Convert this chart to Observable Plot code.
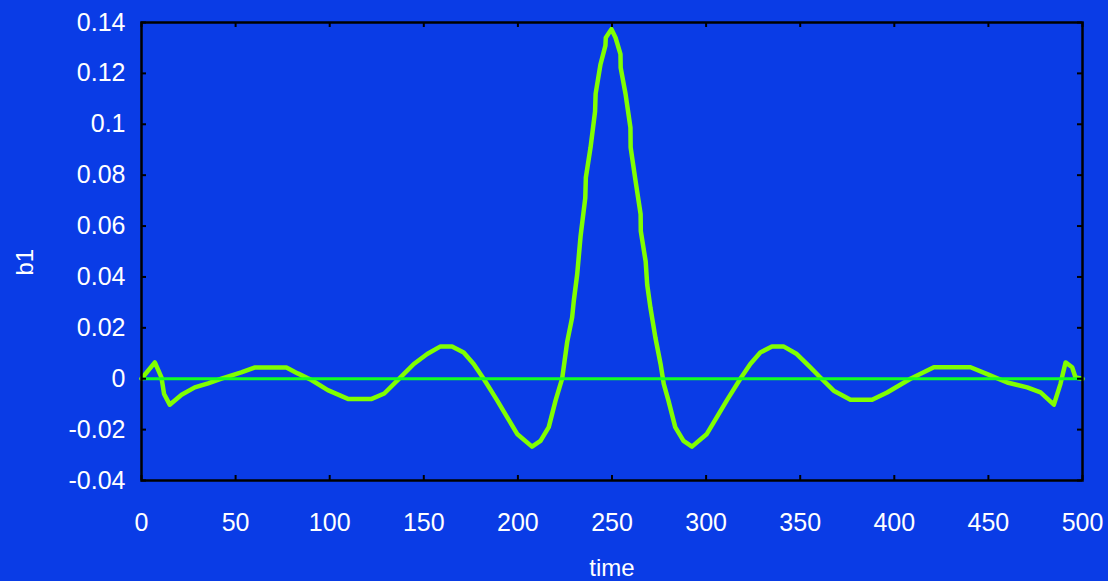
<!DOCTYPE html>
<html>
<head>
<meta charset="utf-8">
<script src="https://cdn.jsdelivr.net/npm/d3@7"></script>
<script src="https://cdn.jsdelivr.net/npm/@observablehq/plot@0.6"></script>
<style>
  html, body { margin: 0; padding: 0; background: #0a3ce6; }
  #chart svg { display: block; }
</style>
</head>
<body>
<div id="chart"></div>
<script>
const time = [0, 7.1, 10.6, 12, 15, 21.3, 28.3, 35.4, 42.5, 53, 60, 77, 83, 90.3, 99, 110, 122, 129,
  137.6, 144.7, 151.8, 158.9, 165, 171.2, 176.5, 181.8, 188.9, 194.2, 199.6, 207.5, 212, 216.4, 220,
  223.5, 226.2, 228.8, 229.7, 231.5, 233.3, 235.8, 236.1, 238.6, 241.0, 241.3, 243.9, 246.5, 246.7, 249.7,
  251.9, 254.5, 254.6, 257.2, 259.8, 259.9, 262.5, 265.2, 265.3, 267.9, 268.7, 270.4, 273.1, 275.8, 277.5,
  280, 283.6, 288, 292.5, 300.4, 305.8, 311.1, 318.2, 323.5, 328.8, 335, 341.1, 348.2, 355.4, 360.7,
  367.8, 376.7, 388.2, 396.2, 408.6, 421, 440.5, 449.4, 460, 470.6, 477.7, 484.8, 488.3, 491, 494.5, 496.3, 500];
const b1 = [0, 0.0064, 0.0005, -0.006, -0.0102, -0.0063, -0.0034, -0.0018, 0, 0.0025, 0.0044, 0.0044, 0.0021, -0.0005, -0.0045, -0.008, -0.008, -0.0058,
  0.0005, 0.0058, 0.0097, 0.0127, 0.0127, 0.0103, 0.0058, 0, -0.0084, -0.015, -0.0217, -0.0267, -0.0244, -0.019, -0.0086,
  0, 0.0145, 0.024, 0.0306, 0.041, 0.056, 0.071, 0.079, 0.0909, 0.105, 0.112, 0.1236, 0.1309, 0.134, 0.1374,
  0.134, 0.1276, 0.1223, 0.1119, 0.0987, 0.0909, 0.0778, 0.0647, 0.058, 0.046, 0.037, 0.028, 0.016, 0.0058, -0.002,
  -0.0086, -0.019, -0.0244, -0.0267, -0.0217, -0.015, -0.0084, 0, 0.0058, 0.0103, 0.0127, 0.0127, 0.0097, 0.0045, 0.0005,
  -0.0047, -0.0083, -0.0083, -0.0054, 0, 0.0045, 0.0045, 0.0018, -0.0015, -0.0034, -0.0054, -0.0102, -0.002, 0.0064, 0.0045, 0.0005, 0];
const xTicks = [0, 50, 100, 150, 200, 250, 300, 350, 400, 450, 500];
const xTickLabels = ["0", "50", "100", "150", "200", "250", "300", "350", "400", "450", "500"];
const yTicks = [-0.04, -0.02, 0, 0.02, 0.04, 0.06, 0.08, 0.1, 0.12, 0.14];
const yTickLabels = ["-0.04", "-0.02", "0", "0.02", "0.04", "0.06", "0.08", "0.1", "0.12", "0.14"];
const xLabel = "time";
const yLabel = "b1";
const zeroLine = [0];

const data = time.map((t, i) => ({time: t, b1: b1[i]}));

const W = 1108, H = 581;
const mL = 141, mR = 26, mT = 22, mB = 101;
const frameW = W - mL - mR, frameH = H - mT - mB;
const tickLen = 5;

const chart = Plot.plot({
  width: W,
  height: H,
  marginLeft: mL,
  marginRight: mR,
  marginTop: mT,
  marginBottom: mB,
  style: {background: "#0a3ce6", color: "white", fontFamily: "'Liberation Sans', Arial, sans-serif", fontSize: "25px"},
  x: {domain: [0, 500]},
  y: {domain: [-0.04, 0.14]},
  marks: [
    Plot.axisX({ticks: xTicks, tickSize: 0, tickPadding: 33, label: null,
      tickFormat: d => xTickLabels[xTicks.indexOf(d)], fill: "white", fontSize: 25}),
    Plot.axisY({ticks: yTicks, tickSize: 0, tickPadding: 16, label: null,
      tickFormat: d => yTickLabels[yTicks.indexOf(d)], fill: "white", fontSize: 25}),
    Plot.line(data, {x: "time", y: "b1", stroke: "#80ff00", strokeWidth: 4.5, strokeLinejoin: "round", strokeLinecap: "round"}),
    Plot.ruleY(zeroLine, {stroke: "#12ff24", strokeWidth: 3}),
    Plot.tickX(xTicks, {x: d => d, insetTop: frameH - tickLen, stroke: "black", strokeWidth: 2}),
    Plot.tickX(xTicks, {x: d => d, insetBottom: frameH - tickLen, stroke: "black", strokeWidth: 2}),
    Plot.tickY(yTicks, {y: d => d, insetRight: frameW - tickLen, stroke: "black", strokeWidth: 2}),
    Plot.tickY(yTicks, {y: d => d, insetLeft: frameW - tickLen, stroke: "black", strokeWidth: 2}),
    Plot.frame({stroke: "black", strokeWidth: 2.5}),
    Plot.text([yLabel], {text: d => d, frameAnchor: "left", dx: -116, dy: 24, rotate: -90, fill: "white", fontSize: 24}),
    Plot.text([xLabel], {text: d => d, frameAnchor: "bottom", dy: 95, fill: "white", fontSize: 24})
  ]
});
document.getElementById("chart").appendChild(chart);
</script>
</body>
</html>
